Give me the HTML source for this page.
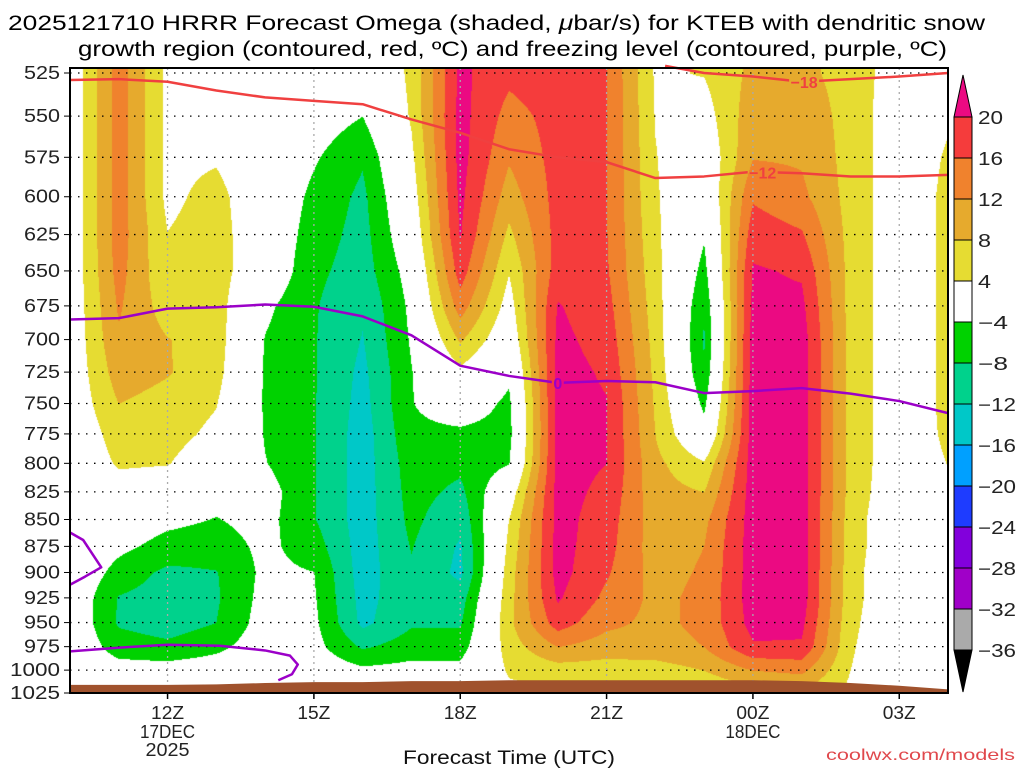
<!DOCTYPE html>
<html><head><meta charset="utf-8">
<style>
body{margin:0;background:#fff;width:1024px;height:768px;overflow:hidden;position:relative;font-family:"Liberation Sans",sans-serif}
#shade{position:absolute;left:70px;top:68px}
#over{position:absolute;left:0;top:0}
</style></head>
<body>
<canvas id="shade" width="878" height="625"></canvas>
<svg id="over" width="1024" height="768">
<defs><mask id="lblmask"><rect x="0" y="0" width="1024" height="768" fill="#fff"/><g id="maskholes"></g></mask></defs>
<g id="title" font-family="Liberation Sans, sans-serif" font-size="21" fill="#000">
<text x="8" y="30" textLength="977" lengthAdjust="spacingAndGlyphs">2025121710 HRRR Forecast Omega (shaded, <tspan font-style="italic">μ</tspan>bar/s) for KTEB with dendritic snow</text>
<text x="78" y="56" textLength="869" lengthAdjust="spacingAndGlyphs">growth region (contoured, red, ºC) and freezing level (contoured, purple, ºC)</text>
</g>
<g id="grid"></g>
<g id="ground"></g>
<g id="lines" mask="url(#lblmask)"></g>
<g id="labels"></g>
<rect x="70" y="68" width="878" height="625" fill="none" stroke="#000" stroke-width="2"/>
<g id="yaxis" font-size="18" fill="#222"></g>
<g id="xaxis" font-size="18" fill="#222"></g>
<text x="509" y="764" text-anchor="middle" font-size="19" textLength="212" lengthAdjust="spacingAndGlyphs" fill="#111">Forecast Time (UTC)</text>
<text x="1015" y="760" text-anchor="end" font-size="16" fill="#e0484c" textLength="189" lengthAdjust="spacingAndGlyphs">coolwx.com/models</text>
<g id="cbar"></g>
</svg>
<script>
const hourLabels=["10Z","11Z","12Z","13Z","14Z","15Z","16Z","17Z","18Z","19Z","20Z","21Z","22Z","23Z","00Z","01Z","02Z","03Z","04Z"];
const pressures=[525,550,575,600,625,650,675,700,725,750,775,800,825,850,875,900,925,950,975,1000,1025];
const o10Z=[0.5,0.5,0.5,0.5,0.5,0.5,0.5,0.5,0.5,0.5,0,0,0,0,0,0,0,0,0,0,0];
const o11Z=[14,14,14,14,14,13.5,12.5,11.5,10,8,6,4.5,2,-1,-3,-5.5,-8.3,-8.5,-6,-2,0];
const o12Z=[3,3,3,3,4.1,4.5,6,8.2,8.3,6.5,5.5,4.2,1,-3,-5.5,-9,-10,-10,-7,-2,0];
const o13Z=[0,1,3.5,5.5,6,6,6,6,5.5,4.2,3,1,-2.5,-4.2,-6,-8.2,-8.5,-8,-5,-1.5,0];
const o14Z=[0,0,0,0,0,0,-3,-4.2,-4.5,-4.5,-4.3,-3.8,-2,-2.5,-3,-3,-2.5,-2,-1.5,-0.5,0];
const o15Z=[0,-1.5,-3.5,-5,-6,-7,-7.6,-7.7,-7.7,-7.7,-7.7,-7.7,-7.7,-7.7,-6,-3.9,-3.5,-3,-2.5,-1,0];
const o16Z=[-2,-4,-7.5,-9,-9.5,-10,-11.5,-12.2,-13,-13.5,-14,-14,-14,-14,-14,-14,-13.5,-13,-8.5,-3,-1];
const o17Z=[5,4.5,3,1.5,0,-2,-3,-3.5,-4.2,-4.2,-5,-6,-6.5,-7,-7.8,-8.5,-9,-8.5,-6,-2.5,0];
const o18Z=[21,21.5,21.5,21,20.3,18,14,8.5,3,-1,-5,-7,-9,-11,-12.5,-13,-10,-8.5,-6,-2.5,0];
const o19Z=[17,14.5,12.5,10,7,4.2,2,0,-3,-5,-5.5,-4.2,1,4,5,6,6.5,7,6,4.5,3];
const o20Z=[18.5,17.5,17.5,17.5,17.5,18,20.3,21,21.5,21.5,21.5,21.5,21.5,21.5,21.5,21.5,20.5,18,12,6,3];
const o21Z=[16.1,16.1,16.1,16.1,16.2,16.5,17.5,18.5,19.5,20.2,20.2,20,19,18,17.5,16.5,15,13,10,6,3];
const o22Z=[3.5,3.8,4.2,4.5,5,5.5,6,6.5,7,7.5,8,9,9.5,10,10,10.5,11,11,10.5,6,3];
const o23Z=[4.2,2,0,-1,-3.5,-5.5,-7.5,-8.5,-7.5,-5,-2,4.5,8,11,12,12.5,13,13,12,8,4];
const o00Z=[9,10.5,11.8,15.5,18.3,20.5,21,22,22,22,22,22,22,22,22,22,22,21.5,19.5,12,6];
const o01Z=[9,10.5,11.5,13,16.5,19.5,21,22,22,22,22,22,22,22,22,22,22,21,19.5,13,7];
const o02Z=[6.5,6.5,6.5,6.5,6.5,6.5,6.5,6.5,6.5,6.5,6.5,6.5,6.5,6,6,5.5,5.5,5,4.5,4,3];
const o03Z=[1.5,1,1,1,1,1,1,1,1,1,1,1,0.5,0,0,0,0,0,0,0,0];
const o04Z=[1.5,3.5,4.5,5,5,5,5,5,5,5,4.8,4.1,2,0,0,0,0,0,0,0,0];
const omegaCols=[o10Z,o11Z,o12Z,o13Z,o14Z,o15Z,o16Z,o17Z,o18Z,o19Z,o20Z,o21Z,o22Z,o23Z,o00Z,o01Z,o02Z,o03Z,o04Z];
const levels=[20,16,12,8,4,-4,-8,-12,-16,-20,-24,-28,-32,-36];
const levelColors=["#eb0a82","#f53c3c","#f0822d","#e6aa2d","#e6dc32","#ffffff","#00d200","#00d28c","#00c8c8","#00a0ff","#1e3cff","#8200dc","#a000c8","#aaaaaa","#000000"];
const isoM12=[529,528.5,530,535,539,541,543,552,560,570,575,578,588,587,584,585,587,587,586];
const isoM18Hours=[12.2,13,14,15,16,17,18];
const isoM18=[521,525,527,530,528.5,527,525];
const freezeMain=[685,684,677,676,674,675.6,682.7,696.8,720,728,733.5,732,733,741.6,740,737.6,742,748,757.8];
const freezeLowH=[0,1.02,2,3.07,4,4.51,4.67,4.55,4.27];
const freezeLowP=[980,976,973,974,979,984.5,994,1004.5,1011];
const freezeLeftH=[0,0.27,0.64,0.31,0];
const freezeLeftP=[862,869,895,904,912];
const surfaceP=[1016,1016,1016,1015.5,1014,1013,1013,1012,1012,1011,1011,1011,1011,1011,1011,1012,1014,1017,1021];
const tickHours=[2,5,8,11,14,17];

const NS="http://www.w3.org/2000/svg";
const L=Math.log(1025/525);
function xOf(h){return 70+h*48.78;}
function yOf(p){return 73+Math.log(p/525)/L*620;}
function mk(tag,attrs,parent){const e=document.createElementNS(NS,tag);for(const k in attrs)e.setAttribute(k,attrs[k]);parent.appendChild(e);return e;}
function hex(c){return [parseInt(c.substr(1,2),16),parseInt(c.substr(3,2),16),parseInt(c.substr(5,2),16)];}

(function(){
 const cv=document.getElementById('shade');const ctx=cv.getContext('2d');
 const W=878,H=625;const img=ctx.createImageData(W,H);
 const rowY=pressures.map(yOf);
 const rgb=levelColors.map(hex);
 for(let py=0;py<H;py++){
  const y=68+py;let i=0;while(i<rowY.length-2&&y>rowY[i+1])i++;
  let fy=(y-rowY[i])/(rowY[i+1]-rowY[i]);fy=Math.max(0,Math.min(1,fy));
  for(let px=0;px<W;px++){
   const hf=Math.min(17.9999,(px+0.5)/48.78);const j=Math.floor(hf);const fx=hf-j;
   const a=omegaCols[j][i],b=omegaCols[j+1][i],c=omegaCols[j][i+1],d=omegaCols[j+1][i+1];
   const v=(a*(1-fx)+b*fx)*(1-fy)+(c*(1-fx)+d*fx)*fy;
   let k=levels.length;for(let m=0;m<levels.length;m++){if(v>=levels[m]){k=m;break;}}
   const col=rgb[k];const o=(py*W+px)*4;
   img.data[o]=col[0];img.data[o+1]=col[1];img.data[o+2]=col[2];img.data[o+3]=255;
  }
 }
 ctx.putImageData(img,0,0);
})();

const grid=document.getElementById('grid');
pressures.forEach(p=>{
 const l=mk('line',{x1:70,x2:948,y1:yOf(p),y2:yOf(p),stroke:'#000','stroke-width':1.3,'stroke-dasharray':'1.5,6.5'},grid);
 
 
});
tickHours.forEach(h=>{
 const l=mk('line',{x1:xOf(h),x2:xOf(h),y1:68,y2:693,stroke:'#aaa','stroke-width':1.3,'stroke-dasharray':'2,4'},grid);
 
 
});

const gnd=document.getElementById('ground');
let gpts=surfaceP.map((p,h)=>xOf(h)+','+yOf(p)).join(' ')+' 948,693 70,693';
const gp=mk('polygon',{points:gpts,fill:'#a0522d'},gnd);



const lines=document.getElementById('lines');
function poly(hs,ps,color,name){
 const pts=hs.map((h,i)=>xOf(h)+','+yOf(ps[i])).join(' ');
 const e=mk('polyline',{points:pts,fill:'none',stroke:color,'stroke-width':2.5,'stroke-linejoin':'round'},lines);
 
 
}
const allH=hourLabels.map((_,i)=>i);
poly(allH,isoM12,'#f04040','isotherm-minus12');
poly(isoM18Hours,isoM18,'#f04040','isotherm-minus18');
poly(allH,freezeMain,'#9b00c8','freezing-level-aloft');
poly(freezeLowH,freezeLowP,'#9b00c8','freezing-level-low');
poly(freezeLeftH,freezeLeftP,'#9b00c8','freezing-level-left');
const labels=document.getElementById('labels');
const holes=document.getElementById('maskholes');
function lab(txt,h,p,color,w,name){
 const x=xOf(h),y=yOf(p);
 mk('rect',{x:x-w/2,y:y-9,width:w,height:18,fill:'#000'},holes);
 const t=mk('text',{x:x,y:y+6,'text-anchor':'middle','font-size':16,'font-weight':'bold',fill:color},labels);
 t.textContent=txt;
 
 
}
lab('−12',14.2,584.5,'#f04040',30,'isotherm-label-minus12');
lab('−18',15.05,530,'#f04040',30,'isotherm-label-minus18');
lab('0',10,733.5,'#9b00c8',12,'freezing-label-0');

const ya=document.getElementById('yaxis');
pressures.forEach(p=>{
 const t=mk('text',{x:60,y:yOf(p)+6,'text-anchor':'end',textLength:(p>=1000?50:36),lengthAdjust:'spacingAndGlyphs'},ya);
 t.textContent=p;
 
 
 const tk=mk('line',{x1:64,x2:70,y1:yOf(p),y2:yOf(p),stroke:'#000','stroke-width':1},ya);
 
 
});
const xa=document.getElementById('xaxis');
tickHours.forEach(h=>{
 const x=xOf(h);
 const tk=mk('line',{x1:x,x2:x,y1:693,y2:699,stroke:'#000','stroke-width':1.5},xa);
 
 
 const t=mk('text',{x:x,y:719,'text-anchor':'middle',textLength:33,lengthAdjust:'spacingAndGlyphs'},xa);
 t.textContent=hourLabels[h];
 
 
});
[[2,'17DEC',738],[2,'2025',756],[14,'18DEC',738]].forEach(d=>{
 const t=mk('text',{x:xOf(d[0]),y:d[2],'text-anchor':'middle',textLength:(d[1].length*11),lengthAdjust:'spacingAndGlyphs'},xa);
 t.textContent=d[1];
 
 
});

const cb=document.getElementById('cbar');
const cbTop=117,seg=41,cx=954,cw=18;
const tri=mk('polygon',{points:`${cx},${cbTop} ${cx+cw},${cbTop} ${cx+cw/2},${cbTop-42}`,fill:levelColors[0],stroke:'#000','stroke-width':1},cb);


for(let i=1;i<levels.length;i++){
 const r=mk('rect',{x:cx,y:cbTop+(i-1)*seg,width:cw,height:seg,fill:levelColors[i],stroke:'#000','stroke-width':1},cb);
 
 
}
const bt=mk('polygon',{points:`${cx},${cbTop+13*seg} ${cx+cw},${cbTop+13*seg} ${cx+cw/2},${cbTop+13*seg+42}`,fill:'#000',stroke:'#000','stroke-width':1},cb);


levels.forEach((lv,i)=>{
 const s=lv<0?'−'+(-lv):String(lv);
 const t=mk('text',{x:978,y:cbTop+i*seg+7,'font-size':18,fill:'#222',textLength:(lv<0?(Math.abs(lv)>=10?38:30):(lv>=10?25:13)),lengthAdjust:'spacingAndGlyphs'},cb);
 t.textContent=s;
 
 
});
</script>
</body></html>
